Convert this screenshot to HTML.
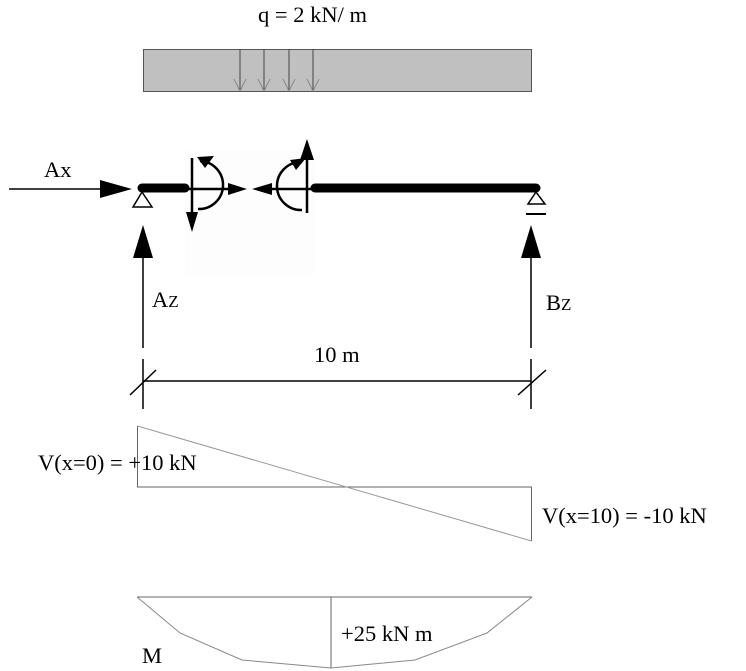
<!DOCTYPE html>
<html><head><meta charset="utf-8"><style>
body{margin:0;background:#fff;width:746px;height:671px;overflow:hidden}
svg{display:block}
text{font-family:"Liberation Serif",serif;font-size:22.5px;fill:#000}
</style></head><body>
<svg width="746" height="671" viewBox="0 0 746 671">
<rect x="185" y="150" width="130" height="125" fill="#fdfdfd"/>
<text x="258" y="22">q = 2 kN/ m</text>
<rect x="143.5" y="49.5" width="388" height="42" fill="#c0c0c0" stroke="#555" stroke-width="1"/>
<g stroke="#444" stroke-width="1" fill="none">
<line x1="240" y1="49" x2="240" y2="91"/><line x1="264" y1="49" x2="264" y2="91"/>
<line x1="289" y1="49" x2="289" y2="91"/><line x1="313" y1="49" x2="313" y2="91"/>
<path d="M234 79 L240 91 L246 79 M258 79 L264 91 L270 79 M283 79 L289 91 L295 79 M307 79 L313 91 L319 79" stroke="#888"/>
</g>
<text x="44" y="177">Ax</text>
<line x1="9" y1="189" x2="105" y2="189" stroke="#000" stroke-width="1.5"/>
<polygon points="100,180 132,189 100,198" fill="#000"/>
<line x1="142" y1="188" x2="185" y2="188" stroke="#000" stroke-width="9" stroke-linecap="round"/>
<line x1="315" y1="188" x2="536" y2="188" stroke="#000" stroke-width="9" stroke-linecap="round"/>
<polygon points="142,192 133,207 152,207" fill="#fff" stroke="#000" stroke-width="1.5"/>
<polygon points="536,192 528,204 545,204" fill="#fff" stroke="#000" stroke-width="1.5"/>
<line x1="526" y1="214" x2="546" y2="214" stroke="#000" stroke-width="2"/>
<g stroke="#000" stroke-width="2.5" fill="none">
<line x1="192" y1="158" x2="192" y2="215"/>
<line x1="185" y1="189" x2="230" y2="189"/>
<path d="M200 161 A24 24 0 0 1 198 209"/>
<line x1="307" y1="155" x2="307" y2="213"/>
<line x1="268" y1="189" x2="315" y2="189"/>
<path d="M300 162 A24 24 0 0 0 302 210"/>
</g>
<polygon points="186,212 192,232 198,212" fill="#000"/>
<polygon points="228,183 247,189 228,195" fill="#000"/>
<polygon points="197,157 214,156 205,168" fill="#000"/>
<polygon points="307,139 314,160 300,160" fill="#000"/>
<polygon points="272,183 252,189 272,195" fill="#000"/>
<polygon points="306,158 296,170 290,160" fill="#000"/>
<line x1="143" y1="255" x2="143" y2="348" stroke="#000" stroke-width="1.5"/>
<polygon points="133,258 143,225 153,258" fill="#000"/>
<text x="152" y="307">A<tspan font-size="17">Z</tspan></text>
<line x1="531" y1="255" x2="531" y2="348" stroke="#000" stroke-width="1.5"/>
<polygon points="521,258 531,225 541,258" fill="#000"/>
<text x="546" y="310">B<tspan font-size="17">Z</tspan></text>
<text x="314" y="362">10 m</text>
<g stroke="#000" stroke-width="1.5">
<line x1="143" y1="381" x2="531" y2="381"/>
<line x1="143" y1="359" x2="143" y2="409"/>
<line x1="531" y1="359" x2="531" y2="409"/>
<line x1="130" y1="395" x2="156" y2="370"/>
<line x1="518" y1="395" x2="546" y2="370"/>
</g>
<g stroke="#666" stroke-width="1" fill="none">
<polyline points="137.5,426 137.5,487 531.5,487 531.5,541"/>
<line x1="137.5" y1="426" x2="531.5" y2="541" stroke="#999"/>
<line x1="137" y1="597" x2="532" y2="597"/>
<line x1="331" y1="597" x2="331" y2="668"/>
<polyline points="137,597 180,633 242,660 331,668 415,660 487,633 532,597" stroke="#888"/>
</g>
<text x="38" y="470">V(x=0) = +10 kN</text>
<text x="542" y="523">V(x=10) = -10 kN</text>
<text x="341" y="641">+25 kN m</text>
<text x="142" y="663">M</text>
</svg>
</body></html>
